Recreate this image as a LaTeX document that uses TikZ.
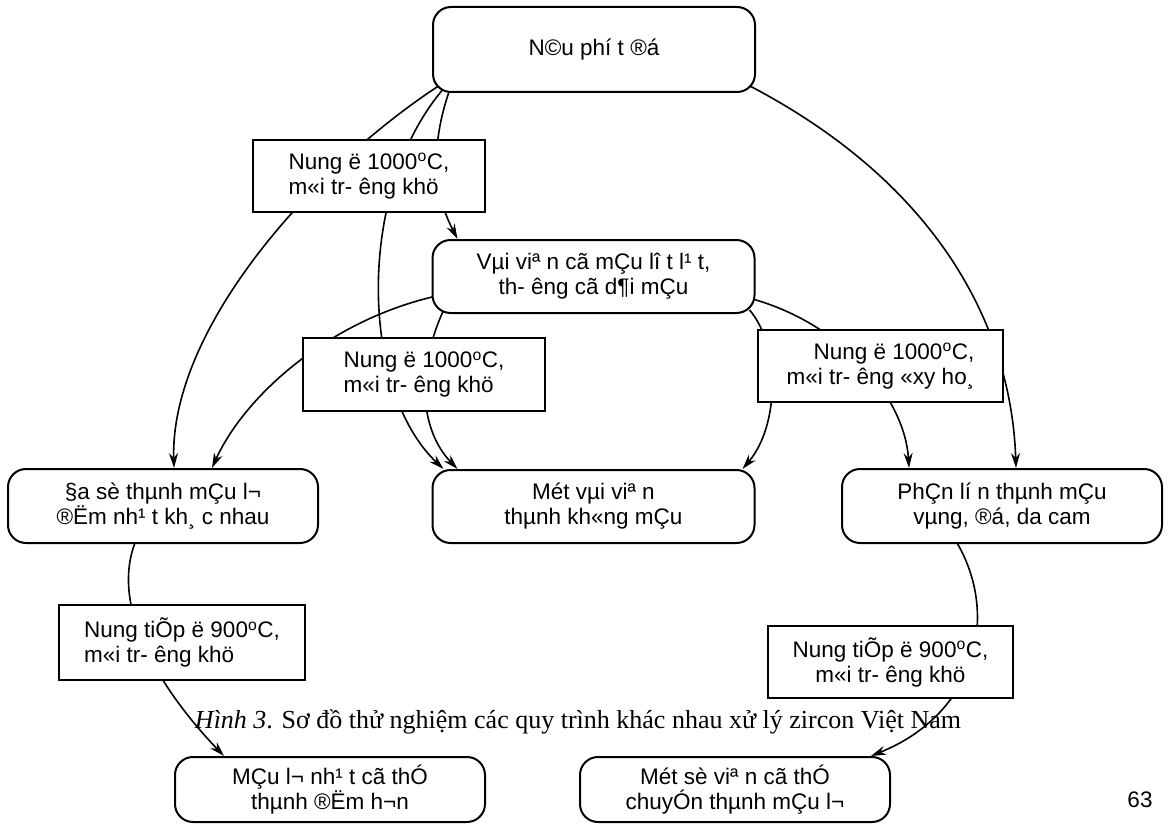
\documentclass[tikz,border=0pt]{standalone}
\usepackage{fontspec}
\setmainfont{Liberation Sans}
\newfontfamily\capfont{Liberation Serif}
\usetikzlibrary{arrows.meta,backgrounds}

\tikzset{
  stagebox/.style={draw, line width=2pt, rounded corners=18pt, fill=white,
    minimum width=322pt, minimum height=73pt, align=center, inner sep=0pt},
  firebox/.style={draw, line width=1.3pt, fill=white, minimum height=72pt,
    align=left, inner sep=0pt},
  flow/.style={line width=1.6pt, -{Stealth[length=15pt,width=9pt]}},
}

\begin{document}
\begin{tikzpicture}[x=1pt,y=-1pt,font=\fontsize{22.5}{25}\selectfont]
\useasboundingbox (0,0) rectangle (1168,832);

% stages
\node[stagebox, minimum height=85pt] (top) at (594,49.5) {N©u phí t ®á};
\node[stagebox] (few) at (593.5,276.5) {Vµi viª n cã mÇu lî t l¹ t,\\th- êng cã d¶i mÇu};
\node[stagebox, minimum width=310pt, minimum height=74pt] (blue) at (163,506) {§a sè thµnh mÇu l¬\\®Ëm nh¹ t kh¸ c nhau};
\node[stagebox] (clear) at (593.5,506.5) {Mét vµi viª n\\thµnh kh«ng mÇu};
\node[stagebox, minimum width=320pt, minimum height=74pt] (warm) at (1002,506) {PhÇn lí n thµnh mÇu\\vµng, ®á, da cam};
\node[stagebox, minimum width=310pt, minimum height=65pt] (deep) at (330,789.5) {MÇu l¬ nh¹ t cã thÓ\\thµnh ®Ëm h¬n};
\node[stagebox, minimum width=310pt, minimum height=65pt] (turn) at (735,789.5) {Mét sè viª n cã thÓ\\chuyÓn thµnh mÇu l¬};

% firing steps
\node[firebox, minimum width=232pt] (fire1) at (369,176) {Nung ë 1000\textsuperscript{o}C,\\m«i tr- êng khö};
\node[firebox, minimum width=242pt, minimum height=73pt] (fire2) at (424,374.5) {Nung ë 1000\textsuperscript{o}C,\\m«i tr- êng khö};
\node[firebox, minimum width=245pt, align=right] (fire3) at (880.5,366) {Nung ë 1000\textsuperscript{o}C,\\m«i tr- êng «xy ho¸};
\node[firebox, minimum width=246pt, minimum height=75pt] (fire4) at (182,642.5) {Nung tiÕp ë 900\textsuperscript{o}C,\\m«i tr- êng khö};
\node[firebox, minimum width=245pt, align=center] (fire5) at (890.5,662) {Nung tiÕp ë 900\textsuperscript{o}C,\\m«i tr- êng khö};

\node[font=\capfont\fontsize{26}{30}\selectfont] (caption) at (578,722) {\textit{Hình 3}. Sơ đồ thử nghiệm các quy trình khác nhau xử lý zircon Việt Nam};
\node (page) at (1140,800) {63};

\begin{scope}[on background layer]
% from the raw stones
\draw[flow] ([xshift=8pt,yshift=8pt]top.south west) .. controls (310,170) and (170,330) .. ([xshift=167pt]blue.north west);
\draw[flow] ([xshift=13pt,yshift=6pt]top.south west) .. controls (355,190) and (360,390) .. ([xshift=12pt]clear.north west);
\draw[flow] ([xshift=18pt,yshift=4pt]top.south west) .. controls (425,160) and (440,205) .. ([xshift=26pt]few.north west);
\draw[flow] ([xshift=-8pt,yshift=8pt]top.south east) .. controls (950,190) and (1012,340) .. ([xshift=175pt]warm.north west);
% from the few coloured ones
\draw[flow] ([xshift=5pt,yshift=18pt]few.south west) .. controls (330,320) and (245,395) .. ([xshift=205pt]blue.north west);
\draw[flow] ([xshift=14pt,yshift=8pt]few.south west) .. controls (415,370) and (420,430) .. ([xshift=26pt]clear.north west);
\draw[flow] ([xshift=-6pt,yshift=4pt]few.south east) .. controls (780,345) and (780,425) .. ([xshift=-13pt]clear.north east);
\draw[flow] ([xshift=-3pt,yshift=15pt]few.south east) .. controls (845,325) and (905,400) .. ([xshift=68pt]warm.north west);
% second firing
\draw[flow] ([xshift=130pt,yshift=6pt]blue.south west) .. controls (105,610) and (170,700) .. ([xshift=50pt]deep.north west);
\draw[flow] ([xshift=113pt,yshift=6pt]warm.south west) .. controls (1000,610) and (980,712) .. ([xshift=-20pt]turn.north east);
\end{scope}
\end{tikzpicture}
\end{document}
